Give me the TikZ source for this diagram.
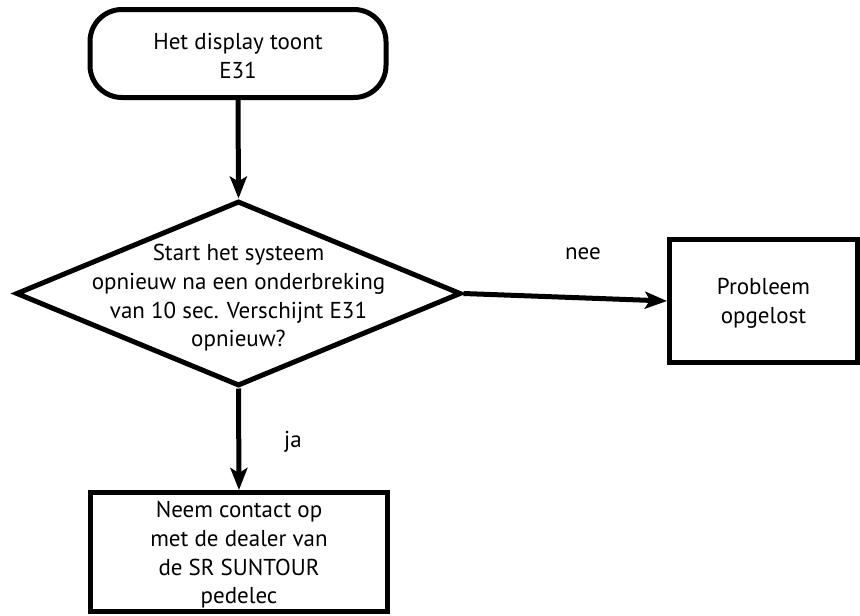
\documentclass[tikz,border=0pt]{standalone}
\usepackage{fontspec}
\setmainfont{PT Sans}
\usetikzlibrary{arrows.meta,shapes.geometric}
\tikzset{
  txt/.style={font=\fontsize{23}{28.7}\selectfont, align=center},
  boxline/.style={draw=black, line width=5pt, fill=white},
  stepbox/.style={boxline, rectangle, inner sep=0pt},
  startbox/.style={boxline, rectangle, rounded corners=32pt, inner sep=0pt},
  decision/.style={boxline, diamond, inner sep=0pt},
  flow/.style={line width=5pt, -{Stealth[length=22pt, width=17pt, inset=5pt]}},
  lbl/.style={font=\fontsize{23}{28.7}\selectfont, inner sep=0pt}
}
\begin{document}
\begin{tikzpicture}[x=1pt,y=-1pt]
\useasboundingbox (0,0) rectangle (860,616);
\node[startbox, minimum width=296pt, minimum height=88pt] (start) at (238,53.5) {};
\node[txt] (starttext) at (238,56) {Het display toont\\E31};
\node[decision, minimum width=445pt, minimum height=185pt] (dec) at (238.5,293.5) {};
\node[txt] (dectext) at (238.5,298) {Start het systeem\\opnieuw na een onderbreking\\van 10 sec. Verschijnt E31\\opnieuw?};
\node[stepbox, minimum width=188pt, minimum height=123pt] (ok) at (763.5,301) {};
\node[txt] (oktext) at (763.5,303) {Probleem\\opgelost};
\node[stepbox, minimum width=297pt, minimum height=118.5pt] (dealer) at (239,551.75) {};
\node[txt] (dealertext) at (239,555) {Neem contact op\\met de dealer van\\de SR SUNTOUR\\pedelec};
\draw[flow] (start.south) -- (dec.north);
\draw[flow] (dec.east) -- (ok.west);
\draw[flow] (dec.south) -- (dealer.north);
\node[lbl] (nee) at (583,254) {nee};
\node[lbl] (ja) at (293,442) {ja};
\end{tikzpicture}
\end{document}
